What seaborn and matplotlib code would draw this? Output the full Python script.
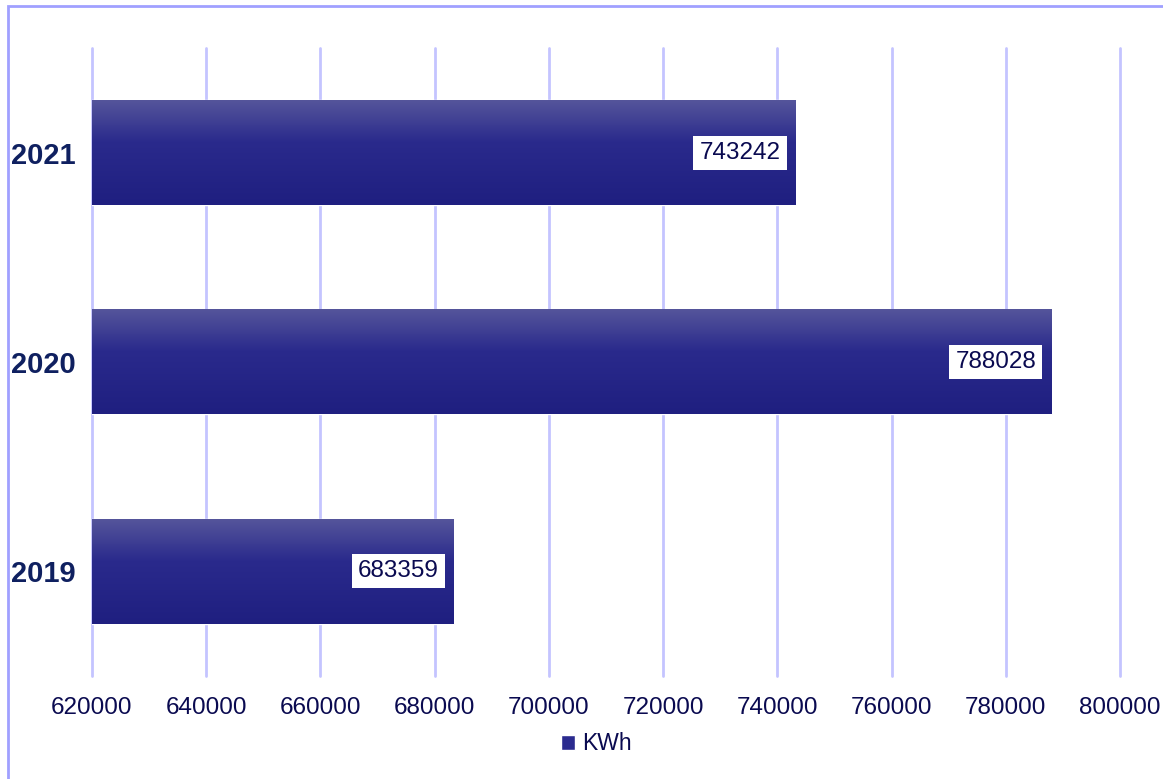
import numpy as np
import pandas as pd
import seaborn as sns
import matplotlib.pyplot as plt
from matplotlib.colors import LinearSegmentedColormap
from matplotlib.patches import Rectangle, Patch

years = ["2021", "2020", "2019"]
kwh = [743242, 788028, 683359]
xticks = [620000, 640000, 660000, 680000, 700000, 720000, 740000, 760000, 780000, 800000]

df = pd.DataFrame({"year": years, "kwh": kwh})

sns.set_style("white")
plt.rcParams["font.family"] = ["Liberation Sans", "DejaVu Sans"]

fig = plt.figure(figsize=(11.63, 7.79), dpi=100)
ax = fig.add_axes([0.0791, 0.1322, 0.8839, 0.8062])

sns.barplot(data=df, x="kwh", y="year", orient="h", color="#2b2b8f", width=0.5, ax=ax, zorder=2)

xmin, xmax = xticks[0], xticks[-1]
ax.set_xlim(xmin, xmax)
ax.set_ylim(2.5, -0.5)
ax.set_xticks(xticks)
ax.set_xticklabels([str(t) for t in xticks])
ax.grid(axis="x", color="#c4c4ff", linewidth=2, zorder=0)
for gl in ax.get_xgridlines():
    gl.set_clip_on(False)
ax.set_axisbelow(True)
for s in ax.spines.values():
    s.set_visible(False)
ax.set_xlabel("")
ax.set_ylabel("")
ax.tick_params(axis="x", length=0, pad=15, labelsize=17.5, labelcolor="#0a0a50")
ax.tick_params(axis="y", length=0, pad=12, labelsize=21, labelcolor="#0f2060")
for lab in ax.get_yticklabels():
    lab.set_fontweight("bold")

# vertical gradient on the bars
cmap = LinearSegmentedColormap.from_list(
    "bar", [(0, "#55559b"), (0.4, "#2a2a8c"), (1, "#1f1f80")])
grad = np.linspace(0, 1, 256).reshape(-1, 1)
for p in ax.patches:
    x0, y0 = p.get_x(), p.get_y()
    w, h = p.get_width(), p.get_height()
    ax.imshow(grad, cmap=cmap, aspect="auto",
              extent=(max(x0, xmin), x0 + w, y0 + h, y0),
              zorder=3, interpolation="bilinear")
    ax.annotate(str(int(w)), xy=(x0 + w, y0 + h / 2), xytext=(-11, 0),
                textcoords="offset points", ha="right", va="center",
                fontsize=17.5, color="#0a0a50", zorder=5,
                bbox=dict(boxstyle="square,pad=0.25", fc="white", ec="none"))
ax.set_xlim(xmin, xmax)
ax.set_ylim(2.5, -0.5)

fig.legend(handles=[Patch(facecolor="#2b2b8f", label="KWh")], loc="center",
           bbox_to_anchor=(0.513, 0.045), frameon=False, fontsize=16.5,
           handlelength=0.6, handleheight=0.6, handletextpad=0.3,
           labelcolor="#0a0a50")

fig.patches.append(Rectangle((8 / 1163, -0.05), 1.2, 1.05 - 6 / 779,
                             transform=fig.transFigure, fill=False,
                             edgecolor="#a0a0ff", linewidth=2))

fig.savefig("out.png", dpi=100)
